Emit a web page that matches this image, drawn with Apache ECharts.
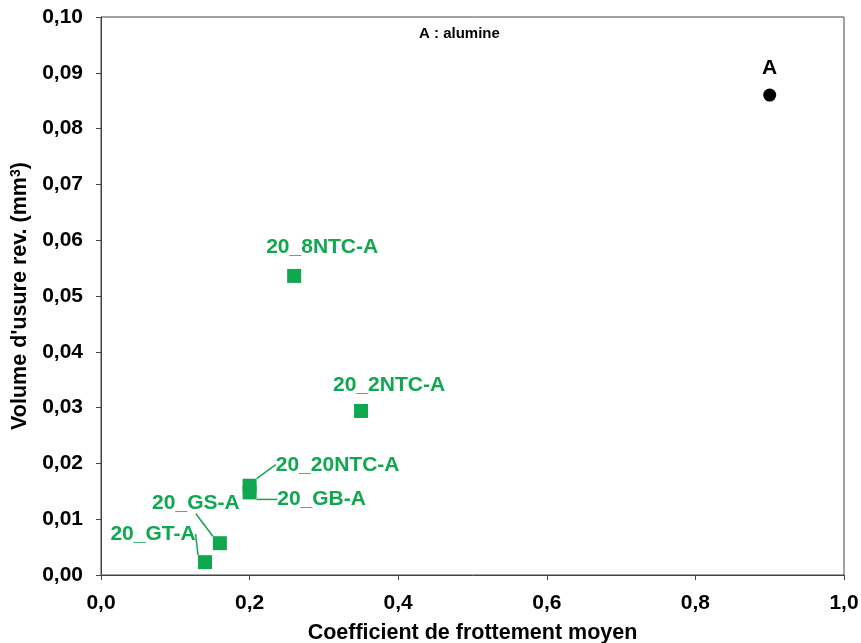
<!DOCTYPE html>
<html>
<head>
<meta charset="utf-8">
<script src="https://cdn.jsdelivr.net/npm/echarts@6/dist/echarts.min.js"></script>
<style>
  html, body { margin: 0; padding: 0; background: #fff; }
  #chart { width: 861px; height: 643px; }
</style>
</head>
<body>
<div id="chart"></div>
<script>
// samples (green squares)
const sampleNames = ['20_8NTC-A', '20_2NTC-A', '20_20NTC-A', '20_GB-A', '20_GS-A', '20_GT-A'];
const sampleFriction = [0.26, 0.35, 0.2, 0.2, 0.16, 0.14];
const sampleWear = [0.0536, 0.0294, 0.016, 0.0148, 0.0057, 0.0023];

// reference alumina (black dot)
const refNames = ['A'];
const refFriction = [0.9];
const refWear = [0.086];

const xTicks = ['0,0', '0,2', '0,4', '0,6', '0,8', '1,0'];
const yTicks = ['0,00', '0,01', '0,02', '0,03', '0,04', '0,05', '0,06', '0,07', '0,08', '0,09', '0,10'];

// label shift from point centre (dx, dy)
const labelShift = [[28, -29], [28, -26], [88, -21], [72, 7], [-24, -40], [-52, -28]];
const withLine = [false, false, true, true, true, true];

const GREEN = '#0fa850';
const FONT = '"Liberation Sans", Arial, sans-serif';

const chart = echarts.init(document.getElementById('chart'));

const option = {
  animation: false,
  textStyle: { fontFamily: FONT },
  grid: {
    left: 101, right: 17, top: 17, bottom: 68,
    containLabel: false, outerBoundsMode: 'none',
    show: true, borderColor: '#444', borderWidth: 1,
  },
  xAxis: {
    type: 'value', min: 0, max: 1, interval: 0.2,
    name: 'Coefficient de frottement moyen',
    nameLocation: 'middle', nameGap: 47,
    nameTextStyle: { fontSize: 21.5, fontWeight: 'bold', color: '#000', fontFamily: FONT },
    axisLine: { lineStyle: { color: '#444' } },
    axisTick: { show: true, length: 5, lineStyle: { color: '#444' } },
    splitLine: { show: false },
    axisLabel: {
      margin: 18, fontSize: 21, fontWeight: 'bold', color: '#000', fontFamily: FONT,
      formatter: (v, i) => xTicks[i],
    },
  },
  yAxis: {
    type: 'value', min: 0, max: 0.1, interval: 0.01,
    name: "Volume d'usure rev. (mm{sup|3})",
    nameLocation: 'middle', nameGap: 67, nameRotate: 90,
    nameTextStyle: {
      fontSize: 21.5, fontWeight: 'bold', color: '#000', fontFamily: FONT,
      rich: {
        sup: { fontSize: 14, fontWeight: 'bold', color: '#000', fontFamily: FONT, verticalAlign: 'top', padding: [0, 0, 8, 0] },
      },
    },
    axisLine: { show: true, lineStyle: { color: '#444' } },
    axisTick: { show: true, length: 5, lineStyle: { color: '#444' } },
    splitLine: { show: false },
    axisLabel: {
      margin: 18, fontSize: 21, fontWeight: 'bold', color: '#000', fontFamily: FONT,
      formatter: (v, i) => yTicks[i],
    },
  },
  graphic: [{
    type: 'text', left: 419, top: 26,
    style: { text: 'A : alumine', font: 'bold 15px ' + FONT, fill: '#000' },
  }],
  series: [
    {
      type: 'scatter',
      symbol: 'rect',
      symbolSize: 14,
      itemStyle: { color: GREEN, opacity: 1 },
      data: sampleNames.map((n, i) => ({
        name: n,
        value: [sampleFriction[i], sampleWear[i]],
        labelLine: { show: withLine[i] },
      })),
      label: {
        show: true, position: 'inside',
        formatter: (p) => p.name,
        fontSize: 21, fontWeight: 'bold', color: GREEN, fontFamily: FONT,
      },
      labelLine: { lineStyle: { color: GREEN, width: 1.5 } },
      labelLayout: (p) => ({ dx: labelShift[p.dataIndex][0], dy: labelShift[p.dataIndex][1] }),
    },
    {
      type: 'scatter',
      symbol: 'circle',
      symbolSize: 13,
      itemStyle: { color: '#000', opacity: 1 },
      data: refNames.map((n, i) => ({ name: n, value: [refFriction[i], refWear[i]] })),
      label: {
        show: true, position: 'top', distance: 10,
        formatter: (p) => p.name,
        fontSize: 21, fontWeight: 'bold', color: '#000', fontFamily: FONT,
      },
    },
  ],
};

chart.setOption(option);
</script>
</body>
</html>
